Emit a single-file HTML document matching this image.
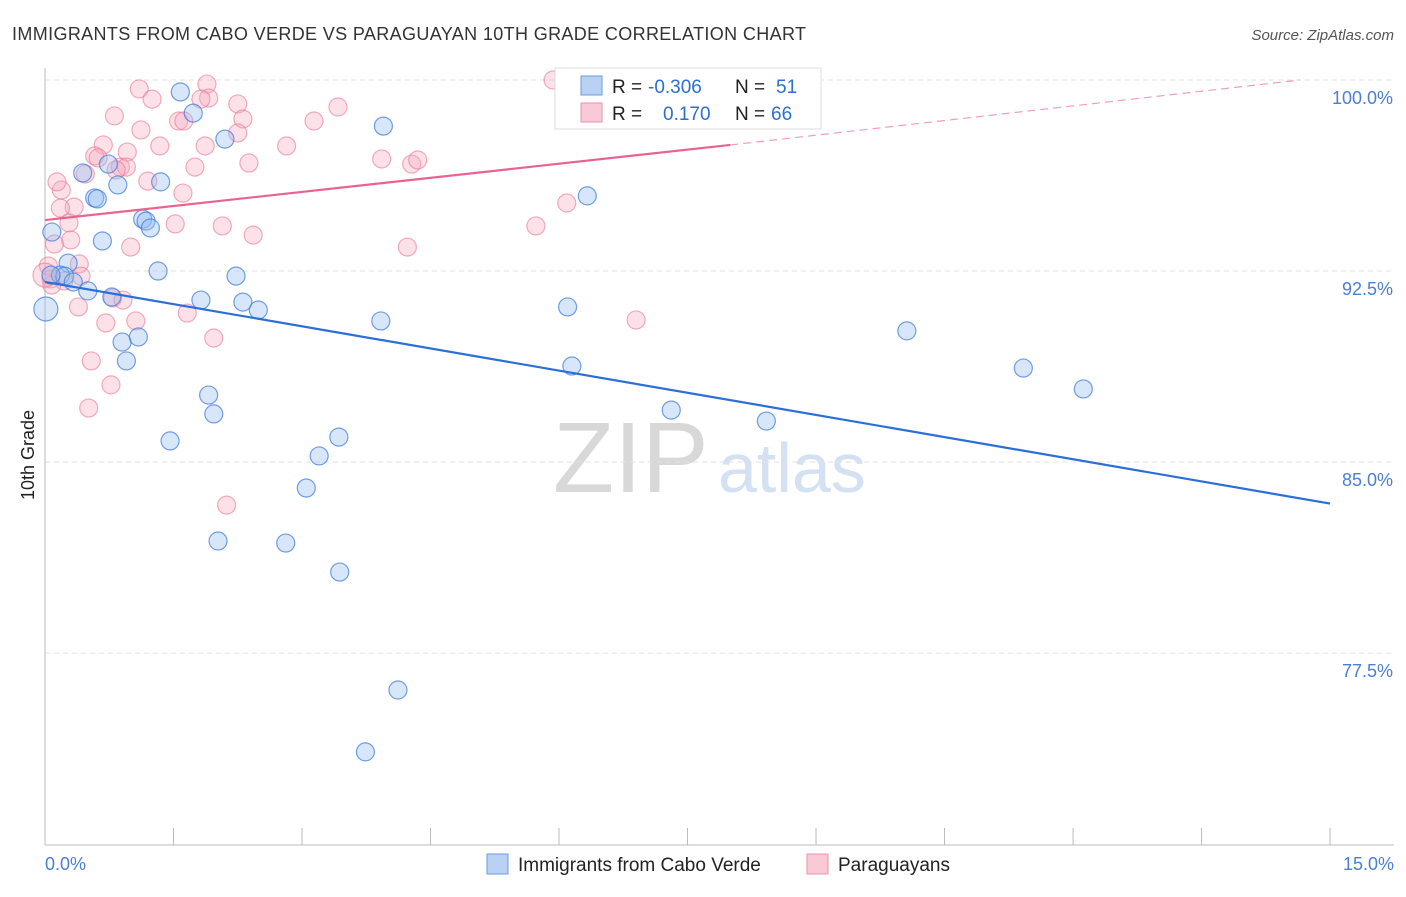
<!DOCTYPE html>
<html><head><meta charset="utf-8"><style>
body{margin:0;background:#fff;font-family:"Liberation Sans",sans-serif}
svg text{font-family:"Liberation Sans",sans-serif}
</style></head><body>
<svg id="c" width="1406" height="892">
<text x="12" y="40" font-size="18" fill="#333" textLength="794">IMMIGRANTS FROM CABO VERDE VS PARAGUAYAN 10TH GRADE CORRELATION CHART</text>
<text x="1394" y="40" font-size="15" fill="#555" font-style="italic" text-anchor="end">Source: ZipAtlas.com</text>
<text x="553" y="492" font-size="100" fill="#d8d8d8" font-family="Liberation Serif">ZIP</text>
<text x="718" y="492" font-size="70" fill="#d3e1f3">atlas</text>
<g id="grid"></g><g id="pts"></g><g id="lines"></g>
<text x="34" y="455" font-size="18" fill="#222" transform="rotate(-90 34 455)" text-anchor="middle">10th Grade</text>
<g>
<rect x="555" y="68" width="266" height="61" fill="#fff" stroke="#ddd"/>
<rect x="581" y="76" width="21" height="19" fill="#b9d2f3" stroke="#6a9be0"/>
<rect x="581" y="103" width="21" height="19" fill="#f9c9d6" stroke="#eb93ab"/>
<text x="612" y="93" font-size="19" fill="#222">R = <tspan x="648" fill="#2b6fd6">-0.306</tspan></text>
<text x="735" y="93" font-size="19" fill="#222">N = <tspan x="776" fill="#2b6fd6">51</tspan></text>
<text x="612" y="120" font-size="19" fill="#222">R = <tspan x="663" fill="#2b6fd6">0.170</tspan></text>
<text x="735" y="120" font-size="19" fill="#222">N = <tspan x="771" fill="#2b6fd6">66</tspan></text>
</g>
<g>
<rect x="487" y="854" width="21" height="20" fill="#b9d2f3" stroke="#6a9be0"/>
<text x="518" y="871" font-size="19" fill="#222">Immigrants from Cabo Verde</text>
<rect x="807" y="854" width="21" height="20" fill="#f9c9d6" stroke="#eb93ab"/>
<text x="838" y="871" font-size="19" fill="#222">Paraguayans</text>
</g>
</svg>
<script>
const yTicks=[100,92.5,85,77.5];
const yTickLabels=["100.0%","92.5%","85.0%","77.5%"];
const xTicks=[0,1.5,3,4.5,6,7.5,9,10.5,12,13.5,15];
const blueX=[1.58,1.73,2.10,3.95,0.44,0.74,0.85,1.35,0.58,0.61,1.14,1.18,1.23,0.08,0.67,1.32,2.23,0.27,0.18,0.23,0.33,0.50,0.78,1.82,2.31,2.49,0.01,3.92,6.10,10.06,0.90,1.09,0.95,6.15,11.42,12.12,1.91,1.97,7.31,8.42,1.46,3.43,3.20,3.05,2.02,2.81,3.44,4.12,3.74,6.33,0.07];
const blueY=[99.53,98.70,97.68,98.19,96.35,96.70,95.88,96.00,95.37,95.33,94.54,94.46,94.19,94.03,93.68,92.50,92.30,92.81,92.34,92.30,92.07,91.72,91.48,91.36,91.28,90.97,91.01,90.54,91.09,90.15,89.71,89.91,88.97,88.77,88.69,87.87,87.63,86.89,87.04,86.61,85.83,85.98,85.24,83.98,81.90,81.82,80.68,76.05,73.62,95.45,92.34];
const pinkX=[1.10,1.25,1.89,1.91,1.82,2.25,0.81,1.56,1.62,2.31,1.12,2.25,3.42,3.14,1.34,0.68,1.87,2.82,0.58,0.62,0.96,0.88,0.95,0.83,0.47,1.20,1.61,0.19,0.14,1.75,2.38,3.93,4.28,4.35,5.93,0.34,0.18,0.28,1.52,2.07,2.43,0.11,0.30,1.00,4.23,5.73,6.09,0.04,0.40,0.07,0.42,0.22,0.79,0.91,0.39,0.71,1.06,1.66,1.97,6.90,0.54,0.77,0.51,2.12,0.08,0.00];
const pinkY=[99.65,99.25,99.84,99.29,99.25,99.06,98.59,98.39,98.39,98.47,98.04,97.92,98.94,98.39,97.41,97.45,97.41,97.41,97.02,96.94,97.17,96.58,96.58,96.47,96.31,96.03,95.56,95.68,96.00,96.58,96.74,96.90,96.70,96.86,100.0,95.01,94.97,94.39,94.35,94.27,93.91,93.56,93.72,93.44,93.44,94.27,95.17,92.70,92.78,92.19,92.30,92.11,91.44,91.36,91.09,90.46,90.54,90.85,89.87,90.58,88.97,88.03,87.12,83.31,91.95,92.34];
const blueTrend=[0,92.07,15,83.37];
const pinkTrend=[0,94.5,8,97.45,14.65,100];
const X=v=>45+v*85.67, Y=v=>80+(100-v)*25.47;
const NS="http://www.w3.org/2000/svg";
function mk(tag,attrs,parent){const e=document.createElementNS(NS,tag);for(const k in attrs)e.setAttribute(k,attrs[k]);document.getElementById(parent).appendChild(e);return e;}
yTicks.forEach((t,i)=>{
 const l=mk('line',{x1:45,x2:1394,y1:Y(t),y2:Y(t),stroke:'#e2e2e2','stroke-dasharray':'5,4'},'grid');
 
 
 const tx=mk('text',{x:1393,y:Y(t)+24,'font-size':18,fill:'#4a7fd4','text-anchor':'end'},'grid');
 tx.textContent=yTickLabels[i];
 
 
});
const ax=mk('line',{x1:45,x2:45,y1:68,y2:845,stroke:'#bbb'},'grid');


const bx=mk('line',{x1:45,x2:1394,y1:845,y2:845,stroke:'#bbb'},'grid');


xTicks.forEach(t=>{
 const l=mk('line',{x1:X(t),x2:X(t),y1:828,y2:845,stroke:'#bbb'},'grid');
 
 
});
const xl0=mk('text',{x:45,y:870,'font-size':18,fill:'#4a7fd4'},'grid');xl0.textContent='0.0%';


const xl1=mk('text',{x:1394,y:870,'font-size':18,fill:'#4a7fd4','text-anchor':'end'},'grid');xl1.textContent='15.0%';


pinkX.forEach((v,i)=>{
 const big=(v<0.02);
 const c=mk('circle',{cx:X(v),cy:Y(pinkY[i]),r:big?12:9,fill:'rgba(246,170,192,0.35)',stroke:'rgba(232,120,150,0.6)','stroke-width':1.2},'pts');
 
 
});
blueX.forEach((v,i)=>{
 const big=(v<0.02);
 const c=mk('circle',{cx:X(v),cy:Y(blueY[i]),r:big?12:9,fill:'rgba(150,190,240,0.38)',stroke:'rgba(60,120,215,0.7)','stroke-width':1.2},'pts');
 
 
});
const bl=mk('line',{x1:X(blueTrend[0]),y1:Y(blueTrend[1]),x2:X(blueTrend[2]),y2:Y(blueTrend[3]),stroke:'#2a6fd8','stroke-width':2.2},'lines');


const pl=mk('line',{x1:X(pinkTrend[0]),y1:Y(pinkTrend[1]),x2:X(pinkTrend[2]),y2:Y(pinkTrend[3]),stroke:'#e8648e','stroke-width':2.2},'lines');


const pd=mk('line',{x1:X(pinkTrend[2]),y1:Y(pinkTrend[3]),x2:X(pinkTrend[4]),y2:Y(pinkTrend[5]),stroke:'#eea0b8','stroke-width':1.2,'stroke-dasharray':'8,5'},'lines');


</script>
</body></html>
